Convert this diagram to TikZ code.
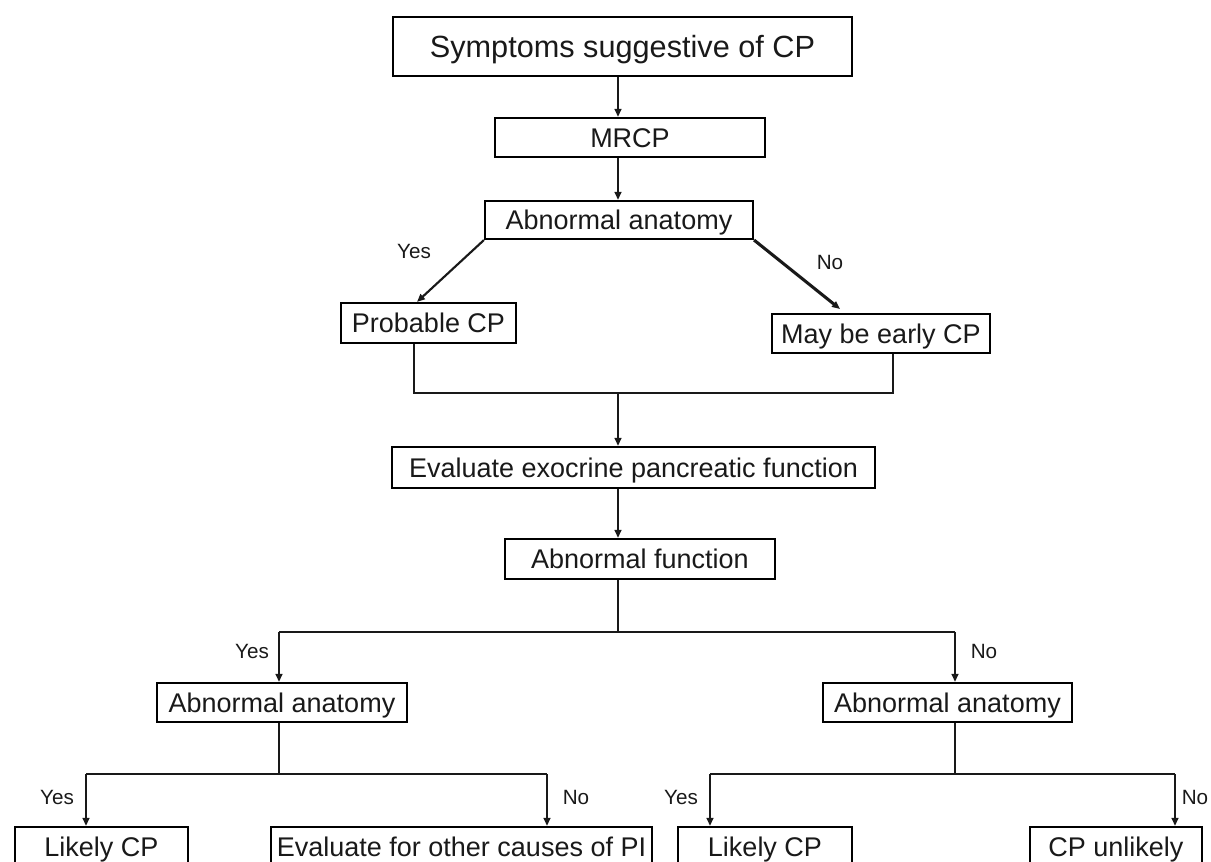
\documentclass[tikz,border=0pt]{standalone}
\usepackage{fontspec}
\setmainfont{Liberation Sans}
\usetikzlibrary{arrows.meta}
\newdimen\px \px=0.75pt
\begin{document}
\begin{tikzpicture}[x=0.75pt,y=-0.75pt,
  box/.style={draw=black, line width=1.6pt, inner sep=0pt, text height=14.5pt, text depth=0pt, font=\fontsize{20.25}{24}\selectfont, text=black!90},
  lbl/.style={inner sep=0pt, text height=11.1pt, text depth=0pt, font=\fontsize{15.5}{18}\selectfont, text=black!90},
  link/.style={draw=black!90, line width=1.6pt},
  arr/.style={link, -{Triangle[length=6pt,width=5pt]}}]
\useasboundingbox (0,0) rectangle (1211,862);
\clip (0,0) rectangle (1211,862);
% nodes
\node[box, minimum width=459*\px, minimum height=59*\px, text height=16.5pt, font=\fontsize{23}{27}\selectfont] (top) at (622.5,46.5) {Symptoms suggestive of CP};
\node[box, minimum width=270*\px, minimum height=39*\px] (mrcp) at (630,137.5) {MRCP};
\node[box, minimum width=268*\px, minimum height=38*\px] (aa1) at (619,220) {Abnormal anatomy};
\node[box, minimum width=175*\px, minimum height=40*\px] (prob) at (428.5,323) {Probable CP};
\node[box, minimum width=218*\px, minimum height=39*\px] (early) at (881,333.5) {May be early CP};
\node[box, minimum width=483*\px, minimum height=41*\px] (eval) at (633.5,467.5) {Evaluate exocrine pancreatic function};
\node[box, minimum width=270*\px, minimum height=40*\px] (func) at (640,559) {Abnormal function};
\node[box, minimum width=250*\px, minimum height=39*\px] (aaL) at (282,702.5) {Abnormal anatomy};
\node[box, minimum width=249*\px, minimum height=39*\px] (aaR) at (947.5,702.5) {Abnormal anatomy};
\node[box, minimum width=173*\px, minimum height=40*\px] (lik1) at (101.5,847) {Likely CP};
\node[box, minimum width=381*\px, minimum height=40*\px] (other) at (461.5,847) {Evaluate for other causes of PI};
\node[box, minimum width=174*\px, minimum height=40*\px] (lik2) at (765,847) {Likely CP};
\node[box, minimum width=172*\px, minimum height=40*\px] (unl) at (1116,847) {CP unlikely};
% coordinates
\coordinate (axis) at (618,0);
\coordinate (tipL) at (417,303);
\coordinate (tipR) at (840,309);
\coordinate (pL) at (414,393);
\coordinate (pR) at (893,393);
\coordinate (j1) at (618,393);
\coordinate (j2) at (618,632);
\coordinate (bL) at (279,632);
\coordinate (bR) at (955,632);
\coordinate (cL) at (279,774);
\coordinate (cL1) at (86,774);
\coordinate (cL2) at (547,774);
\coordinate (cR) at (955,774);
\coordinate (cR1) at (710,774);
\coordinate (cR2) at (1175,774);
% connectors
\draw[arr] (top.south -| axis) -- (mrcp.north -| axis);
\draw[arr] (mrcp.south -| axis) -- (aa1.north -| axis);
\draw[arr] (aa1.south west) -- (prob.north -| tipL);
\draw[arr, line width=2.3pt] (aa1.south east) -- (tipR);
\draw[link] (prob.south -| pL) -- (pL) -- (pR) -- (early.south -| pR);
\draw[arr] (j1) -- (eval.north -| j1);
\draw[arr] (eval.south -| axis) -- (func.north -| axis);
\draw[link] (func.south -| j2) -- (j2);
\draw[link] (bL) -- (bR);
\draw[arr] (bL) -- (aaL.north -| bL);
\draw[arr] (bR) -- (aaR.north -| bR);
\draw[link] (aaL.south -| cL) -- (cL);
\draw[link] (cL1) -- (cL2);
\draw[arr] (cL1) -- (lik1.north -| cL1);
\draw[arr] (cL2) -- (other.north -| cL2);
\draw[link] (aaR.south -| cR) -- (cR);
\draw[link] (cR1) -- (cR2);
\draw[arr] (cR1) -- (lik2.north -| cR1);
\draw[arr] (cR2) -- (unl.north -| cR2);
% labels
\node[lbl] (y1) at (414,251) {Yes};
\node[lbl] (n1) at (830,262) {No};
\node[lbl] (y2) at (252,651) {Yes};
\node[lbl] (n2) at (984,651) {No};
\node[lbl] (y3) at (57,797) {Yes};
\node[lbl] (n3) at (576,797) {No};
\node[lbl] (y4) at (681,797) {Yes};
\node[lbl] (n4) at (1195,797) {No};
\end{tikzpicture}
\end{document}
